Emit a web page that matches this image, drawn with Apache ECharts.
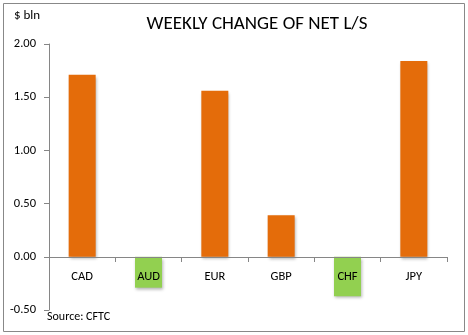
<!DOCTYPE html>
<html><head><meta charset="utf-8">
<script src="https://cdn.jsdelivr.net/npm/echarts@6/dist/echarts.min.js"></script>
<style>html,body{margin:0;padding:0;background:#fff}#c{width:468px;height:335px}</style>
</head><body><div id="c"></div>
<script>
const categories = ['CAD','AUD','EUR','GBP','CHF','JPY'];
const values = [1.71, -0.29, 1.56, 0.39, -0.37, 1.84];
const yTicks = [-0.5, 0, 0.5, 1.0, 1.5, 2.0];
const orange = '#E46C0A', green = '#92D050';
const chart = echarts.init(document.getElementById('c'), null, {renderer:'canvas'});
const font = 'Calibri, Carlito, "Open Sans", "Liberation Sans", sans-serif';
chart.setOption({
  animation:false,
  backgroundColor:'#fff',
  title:{text:'WEEKLY CHANGE OF NET L/S', left:252, top:10, textAlign:'center',
    textStyle:{fontFamily:font, fontSize:19, fontWeight:'normal', color:'#000'}},
  graphic:[
    {type:'rect', shape:{x:3.5,y:3.5,width:461,height:328}, style:{fill:null, stroke:'#888', lineWidth:1}, z:-1},
    {type:'text', left:14, top:9, style:{text:'$ bln', font:'13px '+font, fill:'#000'}},
    {type:'text', left:47, top:311, style:{text:'Source: CFTC', font:'12px '+font, fill:'#000'}}
  ],
  grid:{left:49, right:21, top:44, bottom:25, containLabel:false},
  xAxis:{type:'category', data:categories, position:'bottom', offset:-53,
    axisLine:{onZero:false, lineStyle:{color:'#868686'}},
    axisTick:{show:true, length:5, lineStyle:{color:'#868686'}},
    axisLabel:{color:'#000', fontFamily:font, fontSize:12.5, margin:13},
    z:5},
  yAxis:{type:'value', min:-0.5, max:2, interval:0.5,
    axisLine:{show:true, lineStyle:{color:'#868686'}},
    axisTick:{show:true, length:5, lineStyle:{color:'#868686'}},
    splitLine:{show:false},
    axisLabel:{color:'#000', fontFamily:font, fontSize:12.5, margin:13,
      formatter:v=>yTicks.includes(+v.toFixed(2))?v.toFixed(2):''}},
  series:[{type:'bar', barWidth:27,
    data:values.map(v=>({value:v, itemStyle:{color: v<0?green:orange}})),
    itemStyle:{shadowBlur:3, shadowOffsetX:1, shadowOffsetY:2, shadowColor:'rgba(0,0,0,0.3)'},
    z:1}]
});
</script></body></html>
